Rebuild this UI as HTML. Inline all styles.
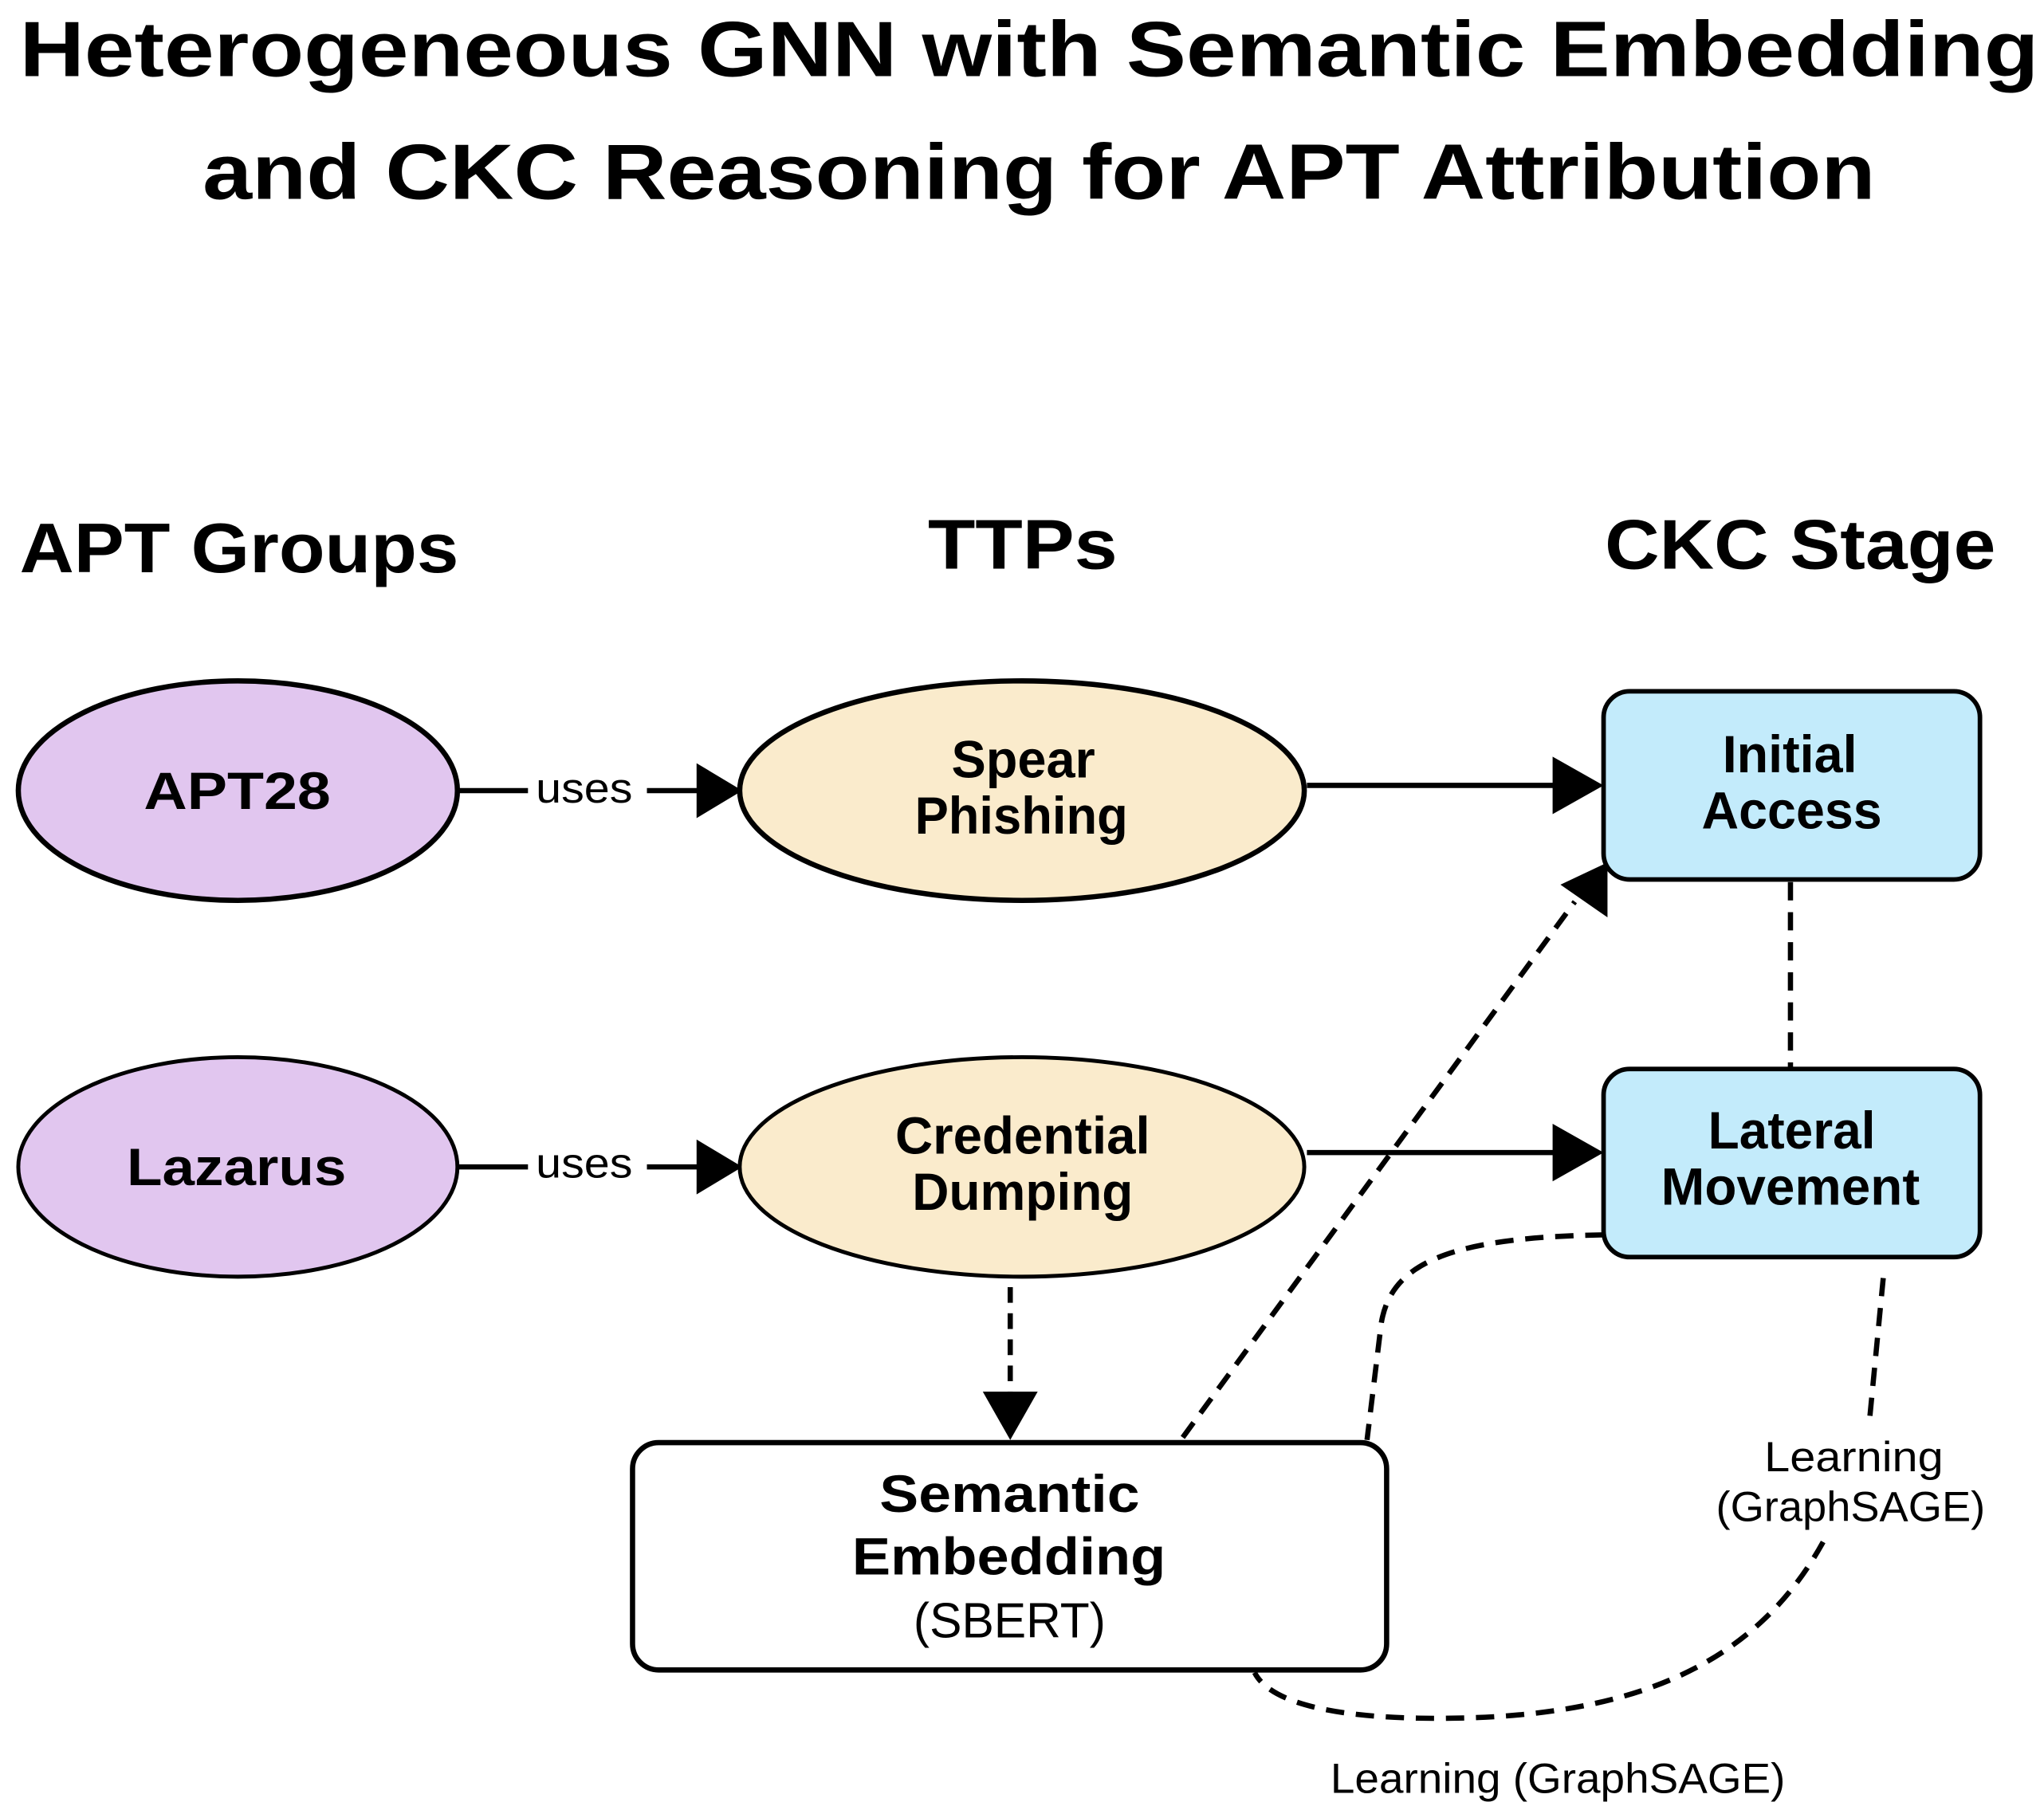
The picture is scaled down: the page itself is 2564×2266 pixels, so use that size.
<!DOCTYPE html>
<html><head><meta charset="utf-8"><style>
html,body{margin:0;padding:0;background:#fff;}
svg{display:block;}
text{font-family:"Liberation Sans","DejaVu Sans",sans-serif;fill:#000;}
.b{font-weight:bold;}
</style></head><body>
<svg width="2564" height="2266" viewBox="0 0 1564 1382" xmlns="http://www.w3.org/2000/svg">
<text x="15" y="58" class="b" font-size="60" textLength="1545" lengthAdjust="spacingAndGlyphs">Heterogeneous GNN with Semantic Embedding</text>
<text x="155" y="152" class="b" font-size="60" textLength="1280" lengthAdjust="spacingAndGlyphs">and CKC Reasoning for APT Attribution</text>

<text x="15" y="438" class="b" font-size="54" textLength="336" lengthAdjust="spacingAndGlyphs">APT Groups</text>
<text x="710" y="435" class="b" font-size="54" textLength="145" lengthAdjust="spacingAndGlyphs">TTPs</text>
<text x="1228" y="435" class="b" font-size="54" textLength="299" lengthAdjust="spacingAndGlyphs">CKC Stage</text>

<g stroke="#000" stroke-width="4" fill="none">
<line x1="773" y1="985" x2="773" y2="1068" stroke-dasharray="12,8"/>
<line x1="905" y1="1100" x2="1205" y2="690" stroke-dasharray="14,9"/>
<line x1="1370" y1="675" x2="1370" y2="818" stroke-dasharray="14,9"/>
<path d="M1227,945 C1100,947 1060,970 1056,1020 L1046,1102" stroke-dasharray="14,9"/>
<path d="M1441,978 L1430,1092" stroke-dasharray="14,9"/>
<path d="M1395,1180 C1340,1280 1240,1315 1100,1315 C1010,1315 970,1300 960,1280" stroke-dasharray="14,9"/>
<line x1="350" y1="605" x2="404" y2="605"/>
<line x1="495" y1="605" x2="540" y2="605"/>
<line x1="350" y1="893" x2="404" y2="893"/>
<line x1="495" y1="893" x2="540" y2="893"/>
<line x1="1000" y1="601" x2="1195" y2="601"/>
<line x1="1000" y1="882" x2="1195" y2="882"/>
</g>
<g fill="#000">
<polygon points="533,584 533,626 568,605"/>
<polygon points="533,872 533,914 568,893"/>
<polygon points="1188,579 1188,623 1227,601"/>
<polygon points="1188,860 1188,904 1227,882"/>
<polygon points="752,1065 794,1065 773,1102"/>
<polygon points="1194,677 1230,702 1230,660"/>
</g>

<ellipse cx="182" cy="605" rx="168" ry="84" fill="#e1c6ef" stroke="#000" stroke-width="4"/>
<ellipse cx="182" cy="893" rx="168" ry="84" fill="#e1c6ef" stroke="#000" stroke-width="3"/>
<ellipse cx="782" cy="605" rx="216" ry="84" fill="#faebcc" stroke="#000" stroke-width="4"/>
<ellipse cx="782" cy="893" rx="216" ry="84" fill="#faebcc" stroke="#000" stroke-width="3"/>
<rect x="1227" y="529" width="288" height="144" rx="20" fill="#c3ebfb" stroke="#000" stroke-width="3.5"/>
<rect x="1227" y="818" width="288" height="144" rx="20" fill="#c3ebfb" stroke="#000" stroke-width="3.5"/>
<rect x="484" y="1104" width="577" height="174" rx="20" fill="#fff" stroke="#000" stroke-width="4"/>

<g class="b" font-size="40">
<text x="110" y="619" class="b" textLength="143" lengthAdjust="spacingAndGlyphs">APT28</text>
<text x="97" y="907" class="b" textLength="168" lengthAdjust="spacingAndGlyphs">Lazarus</text>
<text x="728" y="595" class="b" textLength="110" lengthAdjust="spacingAndGlyphs">Spear</text>
<text x="700" y="638" class="b" textLength="163" lengthAdjust="spacingAndGlyphs">Phishing</text>
<text x="685" y="883" class="b" textLength="195" lengthAdjust="spacingAndGlyphs">Credential</text>
<text x="698" y="926" class="b" textLength="169" lengthAdjust="spacingAndGlyphs">Dumping</text>
<text x="1318" y="591" class="b" textLength="103" lengthAdjust="spacingAndGlyphs">Initial</text>
<text x="1302" y="634" class="b" textLength="138" lengthAdjust="spacingAndGlyphs">Access</text>
<text x="1307" y="879" class="b" textLength="128" lengthAdjust="spacingAndGlyphs">Lateral</text>
<text x="1271" y="922" class="b" textLength="198" lengthAdjust="spacingAndGlyphs">Movement</text>
<text x="673" y="1157" class="b" textLength="199" lengthAdjust="spacingAndGlyphs">Semantic</text>
<text x="652" y="1205" class="b" textLength="240" lengthAdjust="spacingAndGlyphs">Embedding</text>
</g>
<text x="699" y="1253" font-size="38" textLength="147" lengthAdjust="spacingAndGlyphs">(SBERT)</text>
<text x="410" y="614" font-size="32" textLength="74" lengthAdjust="spacingAndGlyphs">uses</text>
<text x="410" y="901" font-size="32" textLength="74" lengthAdjust="spacingAndGlyphs">uses</text>
<text x="1350" y="1126" font-size="32" textLength="137" lengthAdjust="spacingAndGlyphs">Learning</text>
<text x="1313" y="1164" font-size="32" textLength="206" lengthAdjust="spacingAndGlyphs">(GraphSAGE)</text>
<text x="1018" y="1372" font-size="32" textLength="348" lengthAdjust="spacingAndGlyphs">Learning (GraphSAGE)</text>
</svg>
</body></html>
